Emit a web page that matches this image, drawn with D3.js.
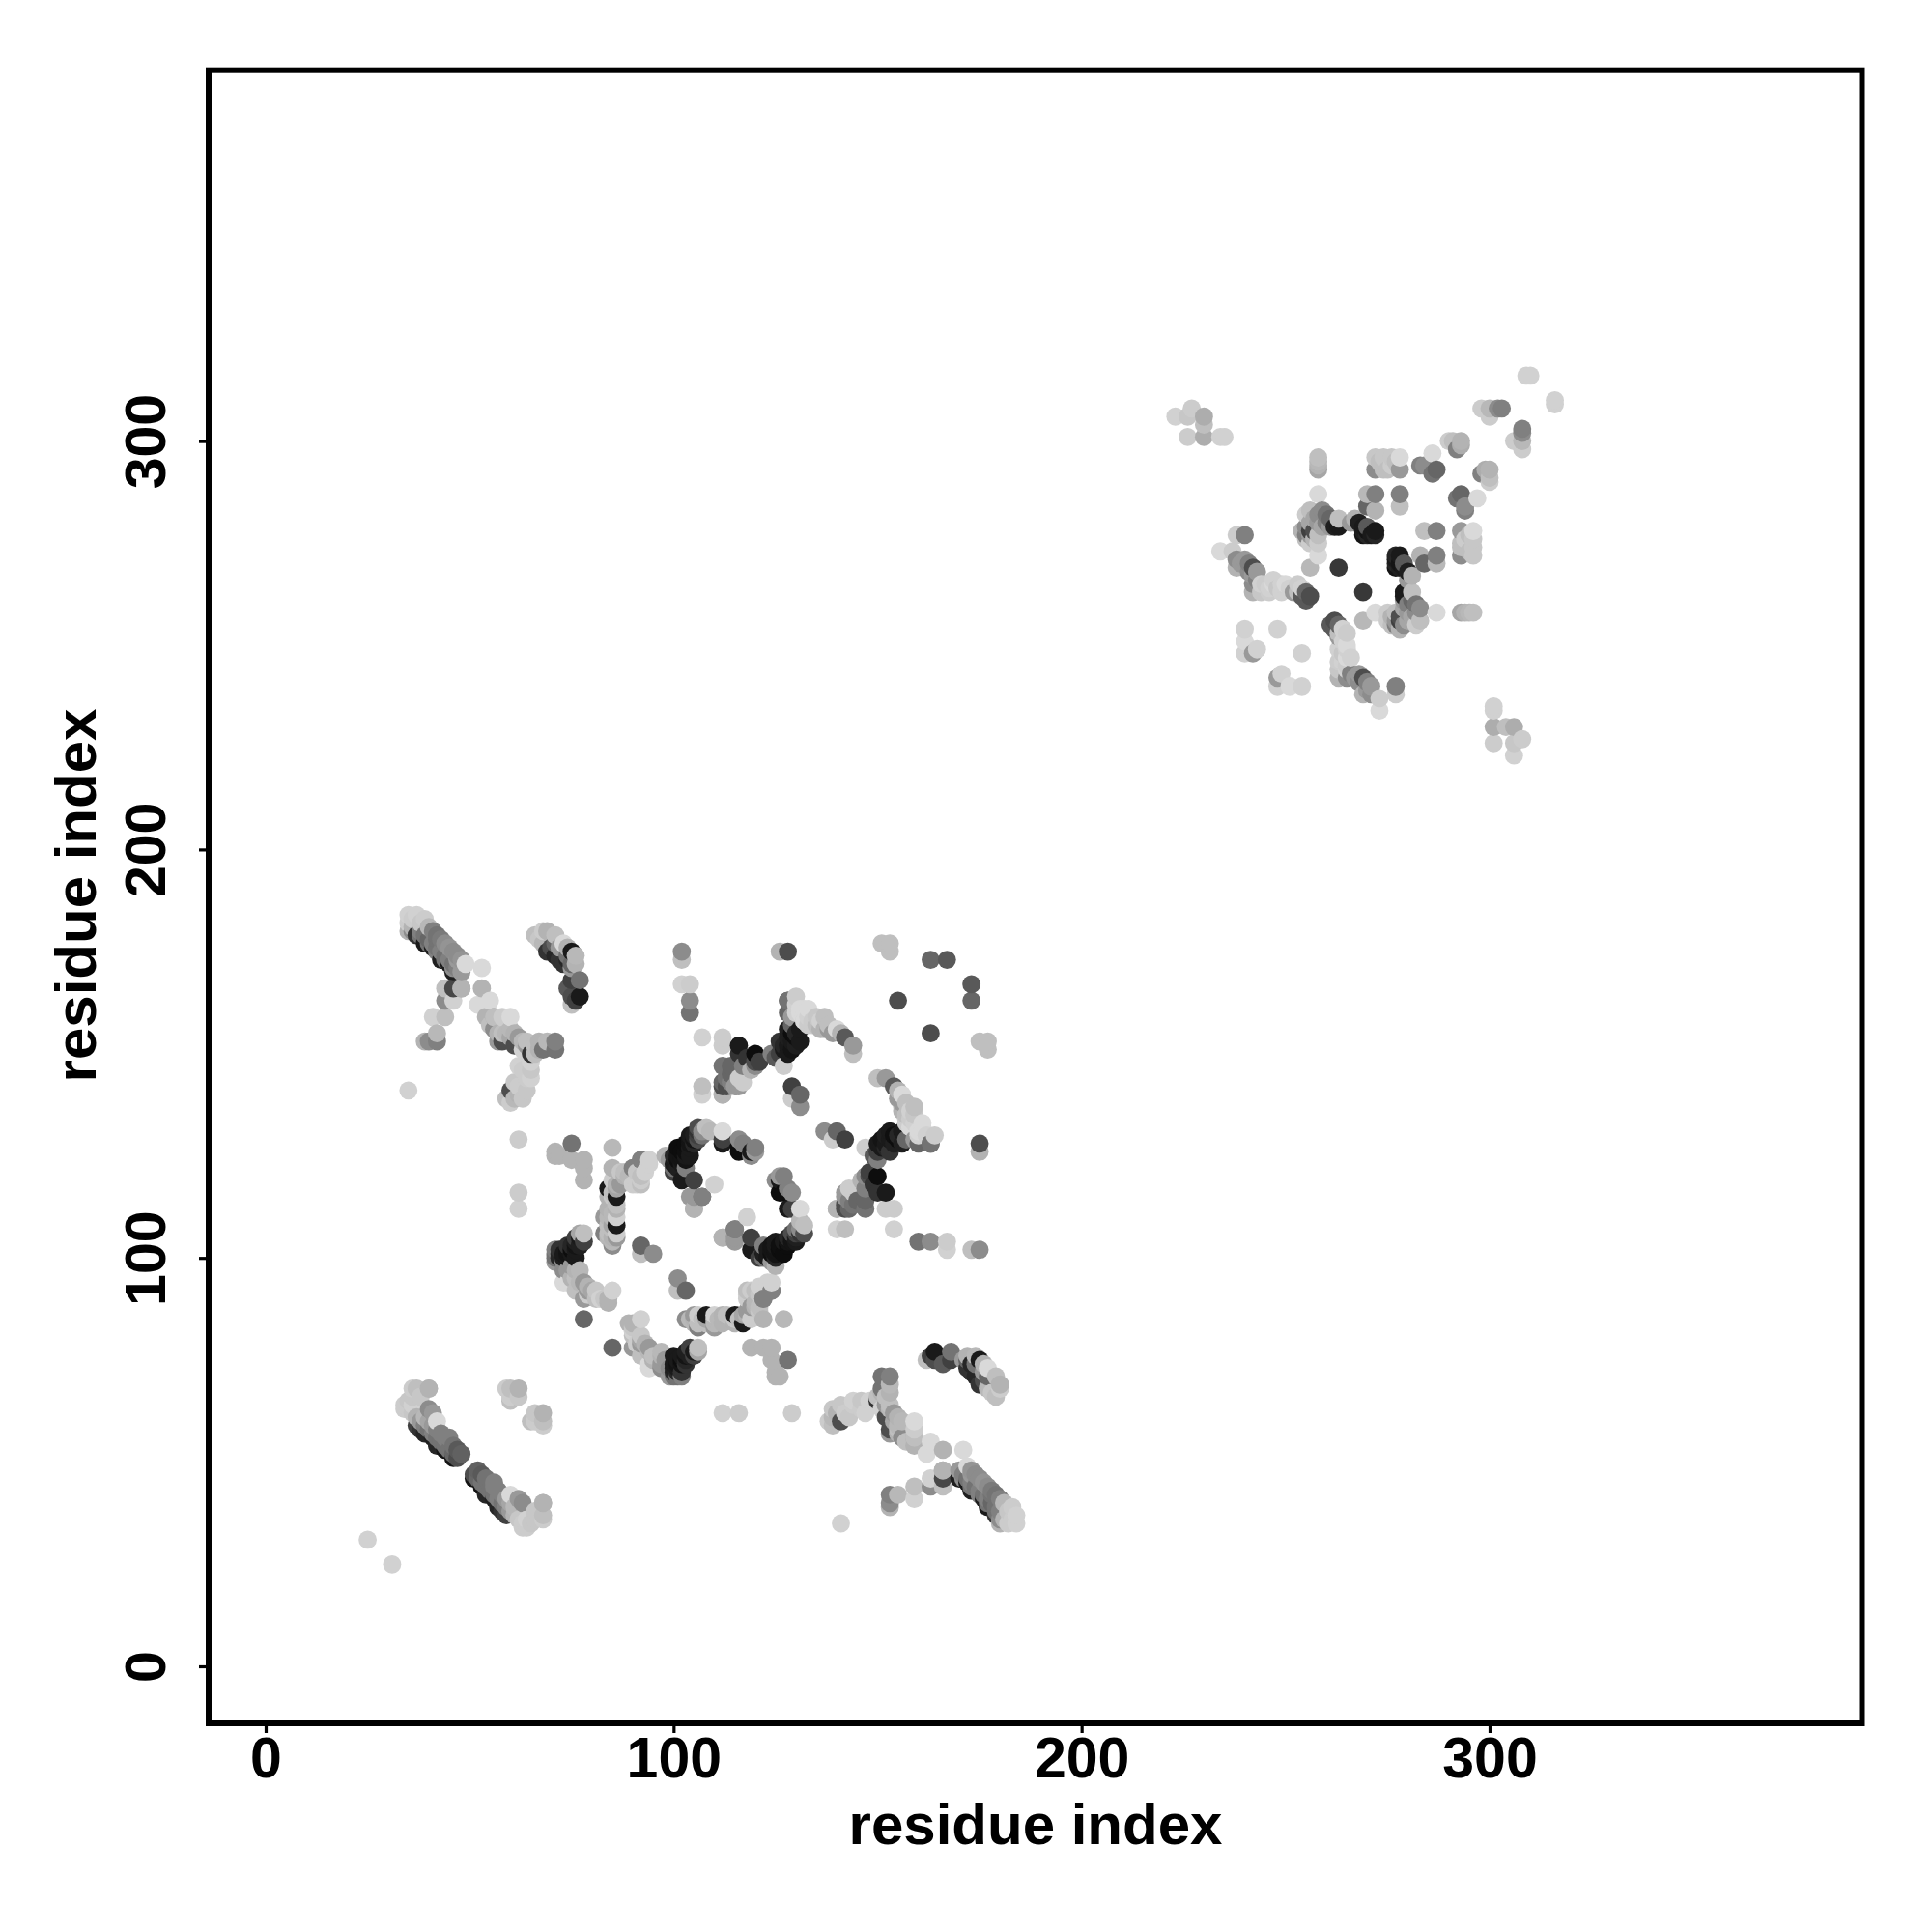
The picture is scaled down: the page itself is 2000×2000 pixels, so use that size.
<!DOCTYPE html>
<html><head><meta charset="utf-8">
<script src="https://cdn.jsdelivr.net/npm/d3@7"></script>
<style>html,body{margin:0;padding:0;background:#fff}svg{display:block}</style>
</head><body><svg id="c" width="2000" height="2000"></svg>
<script>
// Each contact: [residue i, residue j, grey percent]. The map is symmetric, so each is drawn at (i,j) and (j,i).
const isolated=[[25,31,82],[35,141,82],[62,112,82],[62,116,80],[62,129,80]];
const helixTip=[[35,184,82],[37,184,82],[39,183,80],[35,182,80],[36,183,80],[38,182,78],[40,181,72],[35,180,70],[36,180,55],[36,181,70]];
const helixMid=[[41,180,50],[42,179,45],[42,178,45],[43,178,48],[44,177,55],[45,176,58],[46,175,55],[47,174,55],[48,173,58],[47,173,60],[49,172,85]];
const helixDark=[[37,179,20],[39,177,10],[41,176,12],[43,173,12],[45,172,10],[46,170,12],[38,180,50],[39,179,45],[40,178,40],[41,177,50],[42,176,45],[43,175,50],[44,174,45],[45,173,50],[46,172,45],[47,171,50],[48,170,60],[38,179,45],[40,177,45],[42,175,50],[44,173,45],[46,171,55]];
const armA=[[44,166,75],[46,166,28],[48,166,68],[44,163,55],[46,163,82],[41,159,82],[44,159,75],[42,155,72],[39,153,70],[42,153,50],[40,153,55]];
const armB=[[53,171,85],[53,166,70],[55,163,85],[52,162,85],[54,159,70],[56,159,68],[58,159,80],[60,159,85],[55,157,75],[57,155,70],[56,156,55],[58,153,30],[57,153,60],[58,155,75],[60,154,65],[62,154,60],[61,152,30],[63,153,72],[65,150,20],[64,152,60],[67,153,70],[68,151,45],[71,153,50],[71,151,45],[66,150,75],[60,156,72],[62,147,82],[63,146,80],[64,144,80],[64,141,78],[62,140,70],[59,139,75],[60,141,30],[61,139,72],[62,142,80],[63,139,78],[65,146,78],[61,143,78],[60,138,80],[65,148,82],[59,155,72],[61,155,70],[63,151,82],[66,152,75],[69,153,72],[65,144,82]];
const armC=[[66,179,75],[67,178,78],[68,180,80],[68,177,72],[69,175,20],[69,180,70],[71,179,75],[71,177,40],[70,176,30],[71,174,15],[72,173,20],[73,177,85],[74,176,70],[75,175,10],[73,172,20],[74,173,15],[76,172,70],[75,171,60],[77,168,45],[75,168,25],[74,166,35],[77,164,10],[75,164,30],[75,162,75],[76,163,25],[72,176,60],[74,174,45],[76,174,72],[75,172,40]];
const columnD=[[102,175,55],[102,173,75],[102,167,82],[104,167,80],[104,163,55],[104,160,45],[126,175,70],[128,175,30],[151,177,75],[153,177,75],[153,175,75],[163,173,40],[167,173,35],[155,163,30]];
const chainE=[[107,154,82],[112,154,80],[112,152,80],[116,152,10],[120,150,5],[116,150,20],[112,147,45],[117,147,50],[120,147,55],[112,143,40],[117,143,80],[116,142,60],[112,140,70],[107,142,75],[107,140,82],[112,142,30],[114,145,40],[114,147,40],[116,144,80],[115,142,60],[113,142,30],[112,140,70],[113,144,45],[114,143,50],[118,149,20],[119,146,70]];
const chainE2=[[124,150,50],[126,150,25],[127,151,10],[129,153,10],[126,153,20],[127,147,80],[129,155,5],[128,163,40],[128,160,40],[130,164,80],[132,161,85],[132,158,80],[134,158,80],[137,159,75],[138,156,60],[140,156,85],[142,154,35],[144,152,60],[144,150,75],[129,142,25],[131,140,40],[129,139,80],[131,137,55],[131,156,10],[130,155,15],[128,152,10],[127,152,15],[128,154,12],[137,156,70],[133,161,85],[128,163,45],[120,148,30],[121,148,25],[128,150,10],[129,151,8],[130,152,12],[131,153,10],[130,154,6],[128,156,12],[129,157,40],[130,160,82],[132,158,85],[134,157,80],[136,158,82],[138,157,75],[133,159,82],[135,159,78],[131,161,85],[129,159,60],[130,162,82],[131,160,85],[133,157,80],[135,157,75],[136,156,70],[139,155,60],[141,155,70],[125,149,35]];
const ringA=[[98,125,70],[99,124,60],[100,125,15],[100,123,10],[101,127,5],[101,125,8],[102,126,5],[102,124,8],[103,128,5],[103,125,10],[104,130,10],[104,128,8],[105,128,15],[105,130,12],[106,132,30],[106,130,25],[107,130,45],[108,132,75],[112,131,85],[103,122,50],[102,119,10],[105,119,25],[104,115,60],[107,115,45],[105,112,70],[110,118,82],[112,128,10],[116,129,55],[116,127,5],[116,126,5],[117,128,50],[119,126,10],[120,127,50],[120,126,60],[119,125,55],[112,129,25],[105,115,60],[107,115,50],[105,112,70],[100,121,25],[101,122,12],[102,123,10],[103,124,8],[104,125,10],[101,124,6],[102,125,8],[103,126,6],[104,127,10],[105,129,8],[106,131,20],[104,129,8],[100,122,45],[106,129,30],[107,131,55],[109,131,72]];
const leftChain=[[75,128,45],[71,125,70],[72,125,70],[78,124,70],[78,122,70],[78,119,70],[85,127,72],[85,122,70],[94,123,82],[92,124,50],[90,122,60],[88,121,75],[87,118,60],[92,119,80],[90,118,80],[85,119,80],[84,117,10],[86,115,10],[84,115,70],[86,110,82],[86,108,10],[83,110,60],[83,106,50],[86,106,80],[85,103,55],[88,120,70],[89,120,72],[86,117,65],[85,116,75],[84,112,70],[85,111,72],[84,108,75],[85,104,72],[86,105,60],[84,106,75],[85,108,65],[85,110,72],[86,113,75],[85,115,78],[86,118,70],[87,121,78],[91,121,78],[93,121,82],[88,119,60],[84,105,72],[84,110,72],[86,112,70]];
const leftLow=[[78,106,75],[78,104,25],[75,103,15],[73,101,10],[71,101,45],[76,100,10],[73,99,55],[75,95,70],[73,94,85],[78,94,60],[79,92,60],[76,92,75],[82,90,82],[84,90,70],[85,92,82],[78,85,40],[92,103,40],[95,101,55],[92,101,75],[76,102,10],[74,100,10],[75,102,5],[74,102,8],[76,104,12],[74,97,60],[74,94,85],[76,95,75],[78,90,60],[71,100,45],[71,102,50],[81,90,75],[84,89,70],[77,97,72],[79,93,70],[72,100,15],[73,100,12],[74,101,8],[75,101,10],[76,103,8],[77,103,12],[77,105,10],[72,101,15],[71,99,60],[73,97,55],[75,98,60],[76,97,70],[77,94,72],[79,91,80],[80,92,65],[81,92,78],[83,90,78],[72,102,20],[74,103,20],[76,105,25],[77,106,65]];
const lowerChain=[[85,105,70],[85,107,75],[91,118,80],[90,122,50],[92,120,75],[92,124,50],[94,124,82],[92,118,75],[75,124,70],[71,126,70]];
const farChain=[[60,68,75],[62,68,70],[60,65,75],[59,68,80],[60,66,80],[62,66,78],[36,68,80],[40,68,75],[37,68,75],[38,66,78],[40,68,70]];
const helixLow=[[34,63,80],[35,63,80],[36,62,78],[37,61,70],[37,59,25],[38,60,60],[38,58,20],[39,57,15],[40,63,55],[41,62,60],[42,60,85],[41,56,12],[42,54,15],[44,53,8],[46,51,8],[43,57,50],[44,56,50],[45,56,50],[46,54,45],[47,53,35],[48,52,38],[36,64,82],[35,65,78],[36,66,78],[34,64,80],[39,59,50],[40,58,45],[41,57,50],[42,56,45],[43,55,45],[44,54,45],[45,53,45],[46,52,40],[39,61,72],[40,60,65],[41,59,60],[42,58,50],[47,51,30]];
const sideH=[[67,151,70],[64,153,75],[56,159,75],[48,166,70]];
const corner1=[[223,306,82],[227,308,80],[226,306,78],[230,306,68],[226,301,80],[230,301,68],[234,301,82],[235,301,82],[230,304,75]];
const corner2=[[309,316,82],[310,316,82],[298,308,80],[300,306,80],[300,308,72],[302,308,55],[303,308,50],[290,300,80],[291,300,75],[292,298,50],[293,300,70],[293,299,68],[286,297,85],[287,293,40],[286,292,45],[283,294,50],[284,294,55]];
const rowTop=[[272,296,78],[274,296,78],[276,296,78],[278,296,85],[272,293,55],[274,293,75],[275,293,75],[276,294,80],[278,293,60],[258,296,75],[258,295,72],[258,294,70],[258,293,65],[273,295,75],[277,295,75]];
const midTop=[[270,287,72],[272,287,50],[278,287,50],[278,284,75],[272,283,70],[270,284,40],[258,287,85],[263,281,75],[260,282,45],[258,282,55],[256,283,75],[263,279,10],[255,282,80],[256,280,65],[255,279,55],[254,278,70],[255,276,75],[256,275,80],[257,278,30],[258,280,60],[259,279,65],[257,276,70],[256,278,25],[258,277,75],[260,280,50],[261,281,40],[262,279,12],[257,281,65],[259,283,55],[261,279,60],[256,277,60],[255,277,50],[258,275,80]];
const darkCore=[[269,277,8],[269,279,10],[270,279,35],[272,278,10],[270,278,8],[271,277,10],[267,281,70],[266,280,60],[268,280,12],[269,278,12],[270,277,15],[272,277,15],[258,272,85],[256,269,72],[263,269,22],[240,277,50],[238,277,80]];
const chainUp=[[234,273,85],[237,273,80],[238,271,55],[240,271,60],[239,270,60],[242,269,30],[241,268,55],[242,267,60],[242,265,55],[242,263,70],[243,266,50],[244,265,82],[245,265,80],[247,265,85],[248,264,78],[249,265,82],[250,265,85],[251,264,82],[252,263,60],[253,263,75],[254,262,35],[255,263,40],[256,262,30],[255,261,35],[238,269,70],[241,270,50],[243,268,60],[244,263,78],[246,263,80],[246,264,82],[249,263,82],[253,265,80],[254,264,82],[247,266,82]];
const smallUp=[[240,254,82],[248,254,82],[240,251,85],[243,249,82],[242,248,60],[240,248,82]];

const groups=[isolated,helixTip,helixMid,helixDark,armA,armB,armC,columnD,chainE,chainE2,ringA,leftChain,leftLow,lowerChain,farChain,helixLow,sideH,corner1,corner2,rowTop,midTop,darkCore,chainUp,smallUp];
const xTicks=[0,100,200,300], yTicks=[0,100,200,300];
const axisLabel="residue index";

const svg=d3.select("#c");
const x=d3.scaleLinear().domain([0,300]).range([275,1542]);
const y=d3.scaleLinear().domain([0,300]).range([1725,456.6]);
const grey=d3.scaleLinear().domain([0,100]).range([0,255]);
const font="'Liberation Sans',Arial,sans-serif";

const points=[];
groups.forEach(g=>g.forEach(([i,j,v])=>{points.push({x:i,y:j,v});points.push({x:j,y:i,v});}));
points.sort((a,b)=>d3.ascending(a.x,b.x)||d3.ascending(a.y,b.y));

svg.append("g").selectAll("circle").data(points).join("circle")
  .attr("cx",d=>x(d.x)).attr("cy",d=>y(d.y)).attr("r",9.4)
  .attr("fill",d=>{const g=Math.round(grey(d.v));return d3.rgb(g,g,g).formatHex();});

const left=216,right=1927.5,top_=72.7,bottom=1784;
svg.append("rect").attr("x",left).attr("y",top_).attr("width",right-left).attr("height",bottom-top_)
  .attr("fill","none").attr("stroke","#000").attr("stroke-width",6);

const ax=svg.append("g").attr("transform",`translate(0,${bottom+2})`)
  .call(d3.axisBottom(x).tickValues(xTicks).tickSize(8).tickPadding(0).tickFormat(d3.format("d")));
ax.select(".domain").remove();
ax.selectAll("line").attr("stroke","#000").attr("stroke-width",3.2);
ax.selectAll("text").attr("y",54).attr("dy",0).attr("font-family",font).attr("font-weight","bold").attr("font-size",59).attr("fill","#000");

const ay=svg.append("g").attr("transform",`translate(${left-2},0)`)
  .call(d3.axisLeft(y).tickValues(yTicks).tickSize(8).tickPadding(0).tickFormat(d3.format("d")));
ay.select(".domain").remove();
ay.selectAll("line").attr("stroke","#000").attr("stroke-width",3.2);
ay.selectAll("text").attr("x",0).attr("y",0).attr("dy",0)
  .attr("transform","translate(-43,0) rotate(-90)")
  .attr("text-anchor","middle").attr("font-family",font).attr("font-weight","bold").attr("font-size",59).attr("fill","#000");

svg.append("text").attr("x",1072).attr("y",1909).attr("text-anchor","middle")
  .attr("font-family",font).attr("font-weight","bold").attr("font-size",60).text(axisLabel);
svg.append("text").attr("transform","translate(99,927) rotate(-90)").attr("text-anchor","middle")
  .attr("font-family",font).attr("font-weight","bold").attr("font-size",60).text(axisLabel);
</script></body></html>
